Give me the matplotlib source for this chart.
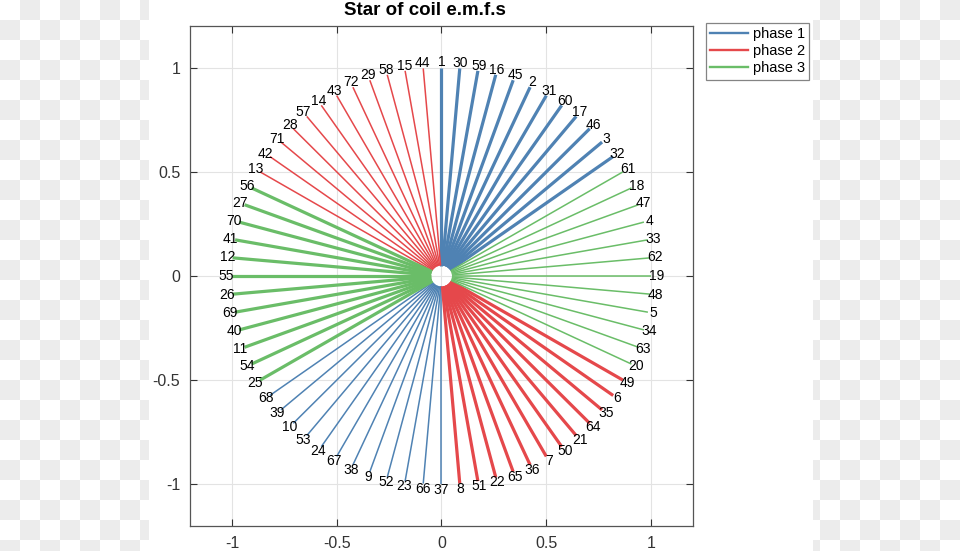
import numpy as np
import matplotlib
matplotlib.use("Agg")
import matplotlib.pyplot as plt
from matplotlib.lines import Line2D

# ---- data ----
# slot numbers in clockwise order starting at the top (90 deg)
slot_order = [1, 30, 59, 16, 45, 2, 31, 60, 17, 46, 3, 32,
              61, 18, 47, 4, 33, 62, 19, 48, 5, 34, 63, 20,
              49, 6, 35, 64, 21, 50, 7, 36, 65, 22, 51, 8,
              37, 66, 23, 52, 9, 38, 67, 24, 53, 10, 39, 68,
              25, 54, 11, 40, 69, 26, 55, 12, 41, 70, 27, 56,
              13, 42, 71, 28, 57, 14, 43, 72, 29, 58, 15, 44]

phase1_pos = [1, 30, 59, 16, 45, 2, 31, 60, 17, 46, 3, 32]
phase1_neg = [37, 66, 23, 52, 9, 38, 67, 24, 53, 10, 39, 68]
phase2_pos = [49, 6, 35, 64, 21, 50, 7, 36, 65, 22, 51, 8]
phase2_neg = [13, 42, 71, 28, 57, 14, 43, 72, 29, 58, 15, 44]
phase3_pos = [25, 54, 11, 40, 69, 26, 55, 12, 41, 70, 27, 56]
phase3_neg = [61, 18, 47, 4, 33, 62, 19, 48, 5, 34, 63, 20]

phase_names = ["phase 1", "phase 2", "phase 3"]
phase_colors = ["#4f82b3", "#e5484b", "#6abd68"]

ticks = [-1, -0.5, 0, 0.5, 1]
tick_labels = ["-1", "-0.5", "0", "0.5", "1"]

title = "Star of coil e.m.f.s"

# ---- figure ----
W, H = 960, 551
plt.rcParams['font.family'] = ['Liberation Sans', 'DejaVu Sans']
fig = plt.figure(figsize=(W / 100, H / 100), dpi=100)
fig.patch.set_facecolor("white")

# transparency checkerboard on both sides (background of the reference image)
yy, xx = np.mgrid[0:H, 0:W]
checker = ((xx // 20 + yy // 20) % 2 == 1)
img = np.ones((H, W, 4))
g = 236 / 255
img[checker, 0:3] = g
img[..., 3] = 1.0
inside = (xx >= 149) & (xx < 813)
img[inside, 3] = 0.0
fig.figimage(img, xo=0, yo=0, origin='upper', zorder=-5)

ax = fig.add_axes([190 / W, 1 - 526 / H, (693 - 190) / W, (526 - 26) / H])
ax.set_xlim(-1.2, 1.2)
ax.set_ylim(-1.2, 1.2)

step = 360.0 / len(slot_order)
angle_of = {s: np.deg2rad(90 - step * i) for i, s in enumerate(slot_order)}

r0 = 0.05
groups = [
    (phase1_pos, 0, 2.3), (phase1_neg, 0, 1.1),
    (phase2_pos, 1, 2.3), (phase2_neg, 1, 1.1),
    (phase3_pos, 2, 2.3), (phase3_neg, 2, 1.1),
]
for slots, ph, lw in groups:
    for s in slots:
        a = angle_of[s]
        ax.plot([r0 * np.cos(a), np.cos(a)], [r0 * np.sin(a), np.sin(a)],
                color=phase_colors[ph], lw=lw, solid_capstyle='butt', zorder=3)

rl = 1.025
for s in slot_order:
    a = angle_of[s]
    ax.text(rl * np.cos(a), rl * np.sin(a), str(s), ha='center', va='center',
            fontsize=10, color='black', zorder=4)

ax.set_xticks(ticks)
ax.set_xticklabels(tick_labels)
ax.set_yticks(ticks)
ax.set_yticklabels(tick_labels)
ax.tick_params(direction='in', length=5, width=0.8, top=True, right=True,
               labelsize=11.5, colors='#333333', pad=7)
for sp in ax.spines.values():
    sp.set_color('#555555')
    sp.set_linewidth(0.9)
ax.grid(True, color='#e3e3e3', lw=0.8, zorder=0)
ax.set_axisbelow(True)

fig.text(424.5 / W, 1 - 15 / H, title, ha='center', va='baseline',
         fontsize=13.5, fontweight='bold')

handles = [Line2D([0], [0], color=c, lw=1.7) for c in phase_colors]
leg = fig.legend(handles, phase_names, loc='upper left',
                 bbox_to_anchor=(706 / W, 1 - 23 / H), bbox_transform=fig.transFigure,
                 fontsize=10.5, frameon=True, fancybox=False, borderaxespad=0,
                 handlelength=2.6, handletextpad=0.3, labelspacing=0.2,
                 borderpad=0.3)
leg.get_frame().set_edgecolor('#666666')
leg.get_frame().set_linewidth(0.9)

fig.savefig("out.png", dpi=100, facecolor=fig.get_facecolor())
